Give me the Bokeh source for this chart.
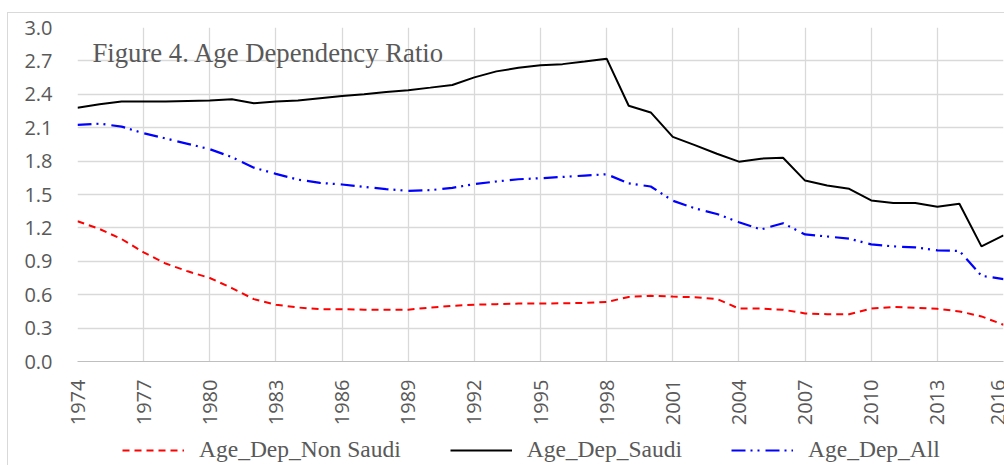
from bokeh.plotting import figure
from bokeh.models import (FixedTicker, Legend, LegendItem, Label, Range1d, ColumnDataSource)
from bokeh.layouts import column
from bokeh.embed import file_html
from bokeh.resources import INLINE
import math

years = list(range(1974, 2017))
non_saudi = [1.26, 1.19, 1.10, 0.98, 0.88, 0.81, 0.75, 0.66, 0.56, 0.51, 0.485, 0.47, 0.47,
             0.465, 0.465, 0.465, 0.485, 0.50, 0.51, 0.515, 0.52, 0.52, 0.523, 0.526, 0.535,
             0.58, 0.59, 0.583, 0.577, 0.562, 0.475, 0.475, 0.465, 0.432, 0.425, 0.425,
             0.475, 0.49, 0.482, 0.473, 0.45, 0.405, 0.33]
saudi = [2.28, 2.31, 2.335, 2.335, 2.335, 2.34, 2.345, 2.355, 2.32, 2.335, 2.345, 2.365, 2.385,
         2.40, 2.42, 2.437, 2.46, 2.484, 2.552, 2.606, 2.638, 2.66, 2.671, 2.695, 2.72,
         2.297, 2.237, 2.018, 1.943, 1.866, 1.795, 1.822, 1.83, 1.625, 1.581, 1.551,
         1.447, 1.423, 1.423, 1.39, 1.417, 1.034, 1.132]
dep_all = [2.125, 2.136, 2.11, 2.05, 2.003, 1.955, 1.907, 1.836, 1.741, 1.685, 1.634, 1.604, 1.59,
           1.569, 1.548, 1.533, 1.539, 1.56, 1.593, 1.617, 1.637, 1.646, 1.658, 1.67, 1.682,
           1.60, 1.572, 1.444, 1.376, 1.325, 1.251, 1.186, 1.242, 1.141, 1.123, 1.103,
           1.052, 1.034, 1.025, 0.998, 0.993, 0.77, 0.74]

series_names = ["Age_Dep_Non Saudi", "Age_Dep_Saudi", "Age_Dep_All"]
x_tick_years = list(range(1974, 2017, 3))
y_ticks = [0.0, 0.3, 0.6, 0.9, 1.2, 1.5, 1.8, 2.1, 2.4, 2.7, 3.0]
y_tick_labels = ["0.0", "0.3", "0.6", "0.9", "1.2", "1.5", "1.8", "2.1", "2.4", "2.7", "3.0"]
title_text = "Figure 4. Age Dependency Ratio"

grid_color = "#d9d9d9"
tick_font = "Open Sans"
text_gray = "#595959"
colors = ["#ff0000", "#000000", "#0000ff"]
dashes = ["7 5", "solid", "14 5 2 5 2 6"]
widths = [2, 2, 2.2]
cols = ["ns", "s", "a"]

src = ColumnDataSource(dict(year=years, ns=non_saudi, s=saudi, a=dep_all))

line_img = "linear-gradient(#d9d9d9, #d9d9d9)"
top_styles = {"background-color": "white",
              "background-image": f"{line_img}, {line_img}",
              "background-position": "7px 12px, 7px 12px",
              "background-size": "1px 2000px, 2000px 1px",
              "background-repeat": "no-repeat, no-repeat"}
leg_styles = {"background-color": "white",
              "background-image": line_img,
              "background-position": "7px 0px",
              "background-size": "1px 2000px",
              "background-repeat": "no-repeat"}

p = figure(width=1004, height=428, output_backend="svg", toolbar_location=None,
           x_range=Range1d(1974, 2016), y_range=Range1d(0, 3.0),
           min_border_left=77, min_border_top=27, min_border_right=1, min_border_bottom=0,
           background_fill_color="white", border_fill_alpha=0, styles=top_styles)
p.outline_line_color = None

p.xaxis.ticker = FixedTicker(ticks=x_tick_years)
p.xaxis.major_label_overrides = {y: str(y) for y in x_tick_years}
p.xaxis.major_label_orientation = math.pi / 2
p.yaxis.ticker = FixedTicker(ticks=y_ticks)
p.yaxis.major_label_overrides = {t: l for t, l in zip(y_ticks, y_tick_labels)}

for ax in (p.xaxis[0], p.yaxis[0]):
    ax.major_tick_line_color = None
    ax.minor_tick_line_color = None
    ax.major_label_text_font = tick_font
    ax.major_label_text_font_size = "20px"
    ax.major_label_text_color = text_gray
p.xaxis.axis_line_color = "#bfbfbf"
p.yaxis.axis_line_color = None
p.xaxis.major_label_standoff = 12
p.yaxis.major_label_standoff = 19

p.xgrid.ticker = FixedTicker(ticks=x_tick_years)
p.ygrid.ticker = FixedTicker(ticks=y_ticks)
p.xgrid.grid_line_color = grid_color
p.ygrid.grid_line_color = grid_color
p.xgrid.grid_line_width = 1.3
p.ygrid.grid_line_width = 1.3

for c_name, c, d, w in zip(cols, colors, dashes, widths):
    p.line("year", c_name, source=src, line_color=c, line_width=w, line_dash=d)

p.add_layout(Label(x=1974.68, y=2.77, text=title_text, text_font="Liberation Serif",
                   text_font_size="26.7px", text_color=text_gray, text_baseline="alphabetic"))

# legend strip below the chart (same series, drawn outside this strip's visible range)
leg = figure(width=1004, height=37, output_backend="svg", toolbar_location=None,
             x_range=Range1d(1974, 2016), y_range=Range1d(100, 101),
             x_axis_location=None, y_axis_location=None,
             min_border=0, background_fill_color="white", border_fill_alpha=0,
             styles=leg_styles)
leg.outline_line_color = None
leg.grid.visible = False
items = []
for name, c_name, c, d, w in zip(series_names, cols, colors, dashes, widths):
    r = leg.line("year", c_name, source=src, line_color=c, line_dash=d, line_width=w)
    items.append(LegendItem(label=name, renderers=[r]))
legend = Legend(items=items, orientation="horizontal", location=(45, 2),
                label_text_font="Liberation Serif", label_text_font_size="23.5px",
                label_text_color=text_gray, glyph_width=62, glyph_height=20,
                label_standoff=15, spacing=49, padding=0, margin=0,
                border_line_color=None, background_fill_alpha=0)
leg.add_layout(legend)

layout = column(p, leg, spacing=0)
open("out.html", "w").write(file_html(layout, INLINE))
